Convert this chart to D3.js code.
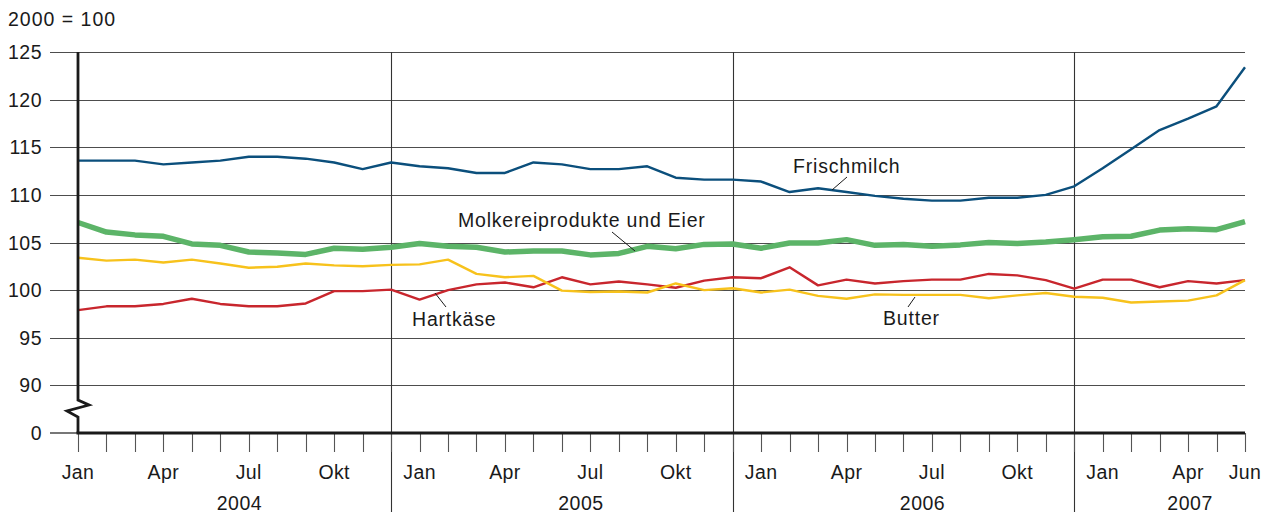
<!DOCTYPE html>
<html>
<head>
<meta charset="utf-8">
<script src="https://cdn.jsdelivr.net/npm/d3@7"></script>
<style>
  body { margin: 0; background: #fff; }
  text { font-family: "Liberation Sans", Arial, sans-serif; fill: #1a1a1a; }
</style>
</head>
<body>
<div id="chart"></div>
<script>
// Monthly index values, Jan 2004 .. Jun 2007 (2000 = 100)
const tickLabels = [
  'Jan', '', '', 'Apr', '', '', 'Jul', '', '', 'Okt', '', '',
  'Jan', '', '', 'Apr', '', '', 'Jul', '', '', 'Okt', '', '',
  'Jan', '', '', 'Apr', '', '', 'Jul', '', '', 'Okt', '', '',
  'Jan', '', '', 'Apr', '', 'Jun'
];
const years = ['2004', '2005', '2006', '2007'];
const yTicks = [0, 90, 95, 100, 105, 110, 115, 120, 125];

const frischmilch = [
  113.6, 113.6, 113.6, 113.2, 113.4, 113.6, 114.0, 114.0, 113.8, 113.4, 112.7, 113.4,
  113.0, 112.8, 112.3, 112.3, 113.4, 113.2, 112.7, 112.7, 113.0, 111.8, 111.6, 111.6,
  111.4, 110.3, 110.7, 110.3, 109.9, 109.6, 109.4, 109.4, 109.7, 109.7, 110.0, 110.9,
  112.8, 114.8, 116.8, 118.0, 119.3, 123.4
];
const molkerei = [
  107.1, 106.1, 105.8, 105.65, 104.85, 104.7, 104.0, 103.9, 103.75, 104.4, 104.3, 104.5,
  104.9, 104.6, 104.5, 104.0, 104.1, 104.1, 103.7, 103.85, 104.6, 104.35, 104.8, 104.85,
  104.4, 104.95, 104.95, 105.3, 104.7, 104.8, 104.6, 104.75, 105.0, 104.9, 105.05, 105.3,
  105.6, 105.65, 106.3, 106.45, 106.35, 107.2
];
const butter = [
  103.4, 103.1, 103.2, 102.9, 103.2, 102.8, 102.35, 102.45, 102.8, 102.6, 102.5, 102.65,
  102.7, 103.2, 101.7, 101.35, 101.5, 99.95, 99.8, 99.85, 99.75, 100.7, 100.0, 100.2,
  99.75, 100.05, 99.4, 99.1, 99.55, 99.5, 99.5, 99.5, 99.15, 99.45, 99.7, 99.3,
  99.2, 98.7, 98.8, 98.9, 99.45, 101.05
];
const hartkaese = [
  97.9, 98.3, 98.3, 98.55, 99.1, 98.55, 98.3, 98.3, 98.6, 99.9, 99.9, 100.05,
  99.0, 100.0, 100.6, 100.8, 100.3, 101.35, 100.6, 100.9, 100.6, 100.25, 101.0, 101.35,
  101.25, 102.4, 100.5, 101.1, 100.7, 100.95, 101.1, 101.1, 101.7, 101.55, 101.05, 100.15,
  101.1, 101.1, 100.3, 100.95, 100.7, 101.05
];

const W = 1275, H = 517;
const mLeft = 78, mRight = 1245, mTop = 52, mBottom = 433;
const svg = d3.select('#chart').append('svg').attr('width', W).attr('height', H);

const x = d3.scaleLinear().domain([0, tickLabels.length - 1]).range([mLeft, mRight]);
// broken axis: 0 is drawn where 85 would be
const yLin = d3.scaleLinear().domain([85, 125]).range([mBottom, mTop]);
const y = (v) => yLin(v === 0 ? 85 : v);

// gridlines
svg.append('g')
  .selectAll('line')
  .data(yTicks.filter((d) => d !== 0))
  .enter()
  .append('line')
  .attr('x1', 50).attr('x2', mRight)
  .attr('y1', (d) => Math.round(y(d)) + 0.5).attr('y2', (d) => Math.round(y(d)) + 0.5)
  .attr('stroke', '#4d4d4d').attr('stroke-width', 1.2);

// y labels
svg.append('g')
  .selectAll('text')
  .data(yTicks)
  .enter()
  .append('text')
  .attr('x', 42).attr('y', (d) => y(d)).attr('dy', '0.36em')
  .attr('text-anchor', 'end').attr('font-size', 19.5).attr('letter-spacing', 0.5)
  .text((d) => d);

svg.append('text').attr('x', 8).attr('y', 26).attr('font-size', 19.5)
  .attr('letter-spacing', 1).text('2000 = 100');

// year separators at December
const sepIdx = [11, 23, 35];
svg.append('g')
  .selectAll('line')
  .data(sepIdx)
  .enter()
  .append('line')
  .attr('x1', (d) => Math.round(x(d)) + 0.5).attr('x2', (d) => Math.round(x(d)) + 0.5)
  .attr('y1', mTop).attr('y2', 512)
  .attr('stroke', '#333').attr('stroke-width', 1.1);

// month ticks
svg.append('g')
  .selectAll('line')
  .data(tickLabels.map((d, i) => i))
  .enter()
  .append('line')
  .attr('x1', (d) => Math.round(x(d)) + 0.5).attr('x2', (d) => Math.round(x(d)) + 0.5)
  .attr('y1', mBottom).attr('y2', 452)
  .attr('stroke', '#555').attr('stroke-width', 1.1);

svg.append('g')
  .selectAll('text')
  .data(tickLabels)
  .enter()
  .append('text')
  .attr('x', (d, i) => x(i)).attr('y', 479)
  .attr('text-anchor', 'middle').attr('font-size', 19.5).attr('letter-spacing', 0.4)
  .text((d) => d);

// year labels
const yearCentre = [5.67, 17.67, 29.67, 39.07];
svg.append('g')
  .selectAll('text')
  .data(years)
  .enter()
  .append('text')
  .attr('x', (d, i) => x(yearCentre[i])).attr('y', 510)
  .attr('text-anchor', 'middle').attr('font-size', 19.5).attr('letter-spacing', 0.5)
  .text((d) => d);

// series
const line = d3.line().x((d, i) => x(i)).y((d) => y(d));
const series = [
  { values: molkerei, color: '#5cb468', width: 5.5 },
  { values: hartkaese, color: '#c8262d', width: 2.4 },
  { values: butter, color: '#f7c21c', width: 2.4 },
  { values: frischmilch, color: '#0b4f7c', width: 2.4 }
];
svg.append('g')
  .selectAll('path')
  .data(series)
  .enter()
  .append('path')
  .attr('d', (d) => line(d.values))
  .attr('fill', 'none')
  .attr('stroke', (d) => d.color)
  .attr('stroke-width', (d) => d.width)
  .attr('stroke-linejoin', 'round');

// axes
svg.append('line').attr('x1', 50).attr('x2', mLeft).attr('y1', mBottom).attr('y2', mBottom)
  .attr('stroke', '#777').attr('stroke-width', 2);
svg.append('line').attr('x1', mLeft - 1.5).attr('x2', mRight).attr('y1', mBottom).attr('y2', mBottom)
  .attr('stroke', '#1a1a1a').attr('stroke-width', 3);
svg.append('path')
  .attr('d', `M${mLeft},${mTop} V400 L${mLeft + 11},405 L${mLeft - 11},411 L${mLeft},417 V${mBottom}`)
  .attr('fill', 'none').attr('stroke', '#1a1a1a').attr('stroke-width', 2.8)
  .attr('stroke-linejoin', 'miter');

// series labels with leader lines
const labels = [
  { text: 'Frischmilch', x: 793, y: 173, l: [847, 177, 832, 190] },
  { text: 'Molkereiprodukte und Eier', x: 458, y: 227, l: [612, 232, 635, 251] },
  { text: 'Hartkäse', x: 412, y: 326, l: [446, 307, 435, 293] },
  { text: 'Butter', x: 883, y: 325, l: [908, 307, 915, 297] }
];
const lab = svg.append('g').selectAll('g').data(labels).enter().append('g');
lab.append('text')
  .attr('x', (d) => d.x).attr('y', (d) => d.y)
  .attr('font-size', 19.5).attr('letter-spacing', 0.8)
  .text((d) => d.text);
lab.append('line')
  .attr('x1', (d) => d.l[0]).attr('y1', (d) => d.l[1])
  .attr('x2', (d) => d.l[2]).attr('y2', (d) => d.l[3])
  .attr('stroke', '#1a1a1a').attr('stroke-width', 1);
</script>
</body>
</html>
